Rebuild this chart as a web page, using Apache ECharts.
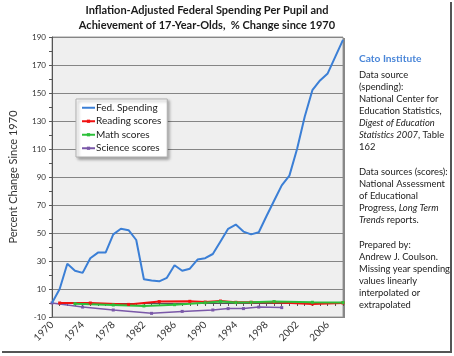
<!DOCTYPE html>
<html><head><meta charset="utf-8">
<script src="https://cdn.jsdelivr.net/npm/echarts@6/dist/echarts.min.js"></script>
<style>html,body{margin:0;padding:0;background:#fff}#c{width:454px;height:356px}</style>
</head><body><div id="c"></div>
<script>
var years = ['1970','1971','1972','1973','1974','1975','1976','1977','1978','1979','1980','1981','1982','1983','1984','1985','1986','1987','1988','1989','1990','1991','1992','1993','1994','1995','1996','1997','1998','1999','2000','2001','2002','2003','2004','2005','2006','2007','2008'];
var spending = [0,10,28,23,21.5,32,36,36,49,53,52,45,17,16,15.5,18,27,23,24.5,31,32,35,44,53,56,51,49,50.5,62,73,84,91,110,133,152,159,164,176,188];
var readingYears = ['1971','1975','1980','1984','1988','1990','1992','1994','1996','1999','2004','2008'];
var readingVals  = [0,0,-1,1,1.2,0.7,1.4,0.5,0.5,0.5,-0.7,0];
var mathYears = ['1973','1978','1982','1986','1990','1992','1994','1996','1999','2004','2008'];
var mathVals  = [-0.5,-1.4,-2.1,-1.2,0.2,1,0.3,0.5,1,0.5,0.3];
var scienceYears = ['1970','1974','1978','1983','1987','1991','1993','1995','1997','2000'];
var scienceVals  = [0,-2.9,-5,-7.4,-6,-5,-4,-4,-2.9,-3.3];
var seriesNames = ['Fed. Spending','Reading scores','Math scores','Science scores'];
var titleLines = ['Inflation-Adjusted Federal Spending Per Pupil and','Achievement of 17-Year-Olds,  % Change since 1970'];
var yAxisName = 'Percent Change Since 1970';
var sideLines = [
  ['{b|Cato Institute}', 0],
  ['Data source', 1],
  ['(spending):', 2],
  ['National Center for', 3],
  ['Education Statistics,', 4],
  ['{i|Digest of Education}', 5],
  ['{i|Statistics 2007}, Table', 6],
  ['162', 7],
  ['Data sources (scores):', 9],
  ['National Assessment', 10],
  ['of Educational', 11],
  ['Progress, {i|Long Term}', 12],
  ['{i|Trends} reports.', 13],
  ['Prepared by:', 15],
  ['Andrew J. Coulson.', 16],
  ['Missing year spending', 17],
  ['values linearly', 18],
  ['interpolated or', 19],
  ['extrapolated', 20]
];

function sparse(ys, vs) {
  var arr = years.map(function(){ return null; });
  ys.forEach(function(y, i){ arr[years.indexOf(y)] = vs[i]; });
  return arr;
}

var FONT = "Lato,'Liberation Sans',sans-serif";
var chart = echarts.init(document.getElementById('c'), null, {renderer:'canvas'});

var graphics = [];
titleLines.forEach(function(t, i){
  graphics.push({type:'text', x:207, y:10 + i*15, style:{text:t, font:"bold 11px " + FONT, fill:'#1a1a1a', textAlign:'center', textVerticalAlign:'middle'}});
});
sideLines.forEach(function(l){
  var idx = l[1];
  var y = idx === 0 ? 59 : 75 + (idx-1)*12 + (idx >= 9 ? 1 : 0) + (idx >= 15 ? 1 : 0);
  graphics.push({type:'text', x:359, y:y, style:{text:l[0], font:"9.4px " + FONT, fill:'#222', textVerticalAlign:'middle',
    rich:{b:{fontFamily:FONT, fontSize:10.2, fontWeight:'bold', fill:'#4a86d8'}, i:{fontFamily:FONT, fontSize:9.4, fontStyle:'italic', fill:'#222'}}}});
});
graphics.push({type:'line', shape:{x1:451, y1:2, x2:451, y2:353}, style:{stroke:'#555', lineWidth:2}});
graphics.push({type:'line', shape:{x1:2, y1:352, x2:452, y2:352}, style:{stroke:'#555', lineWidth:2}});
graphics.push({type:'line', shape:{x1:344, y1:38, x2:344, y2:318}, style:{stroke:'#888', lineWidth:2}});

var mk = function(name, data, color, symbol, width, z){
  return {name:name, type:'line', data:data, connectNulls:true, symbol:symbol, symbolSize:3, showSymbol: symbol !== 'none',
    lineStyle:{color:color, width:width}, itemStyle:{color:color}, z:z, animation:false};
};

chart.setOption({
  animation:false,
  grid:{left:46, top:37, right:111, bottom:39, show:true, backgroundColor:'#efefef', borderColor:'#9a9a9a', borderWidth:1},
  legend:{orient:'vertical', left:76, top:99, padding:[2,6,2,5], itemGap:0, itemWidth:13, itemHeight:4,
    backgroundColor:'#fff', borderColor:'#b0b0b0', borderWidth:1, shadowColor:'rgba(0,0,0,0.35)', shadowBlur:3, shadowOffsetX:2, shadowOffsetY:2,
    textStyle:{fontFamily:FONT, fontSize:10, color:'#222', lineHeight:13.5, padding:[0,0,0,-4]},
    data:[{name:seriesNames[0], itemStyle:{opacity:0}}, seriesNames[1], seriesNames[2], seriesNames[3]]},
  xAxis:{type:'category', data:years, boundaryGap:false,
    axisLine:{lineStyle:{color:'#555', width:1}}, axisTick:{show:true, interval:0, length:3, lineStyle:{color:'#555'}},
    axisLabel:{interval:3, rotate:45, fontFamily:FONT, fontSize:10, color:'#333', margin:6}, splitLine:{show:false}},
  yAxis:{type:'value', min:-10, max:190, interval:10, name:yAxisName, nameLocation:'middle', nameGap:33,
    nameTextStyle:{fontFamily:FONT, fontSize:11, color:'#333'},
    axisLine:{show:true, lineStyle:{color:'#555'}}, axisTick:{show:true, length:3, lineStyle:{color:'#555'}},
    axisLabel:{fontFamily:FONT, fontSize:8, color:'#333', margin:6, formatter:function(v){ return ((v+10) % 20 === 0) ? String(v) : ''; }},
    splitLine:{show:true, lineStyle:{color:['#858585','rgba(0,0,0,0)'], width:1}}},
  series:[
    mk(seriesNames[0], spending, '#3b7fd6', 'none', 2, 5),
    mk(seriesNames[1], sparse(readingYears, readingVals), '#f01010', 'rect', 2, 4),
    mk(seriesNames[2], sparse(mathYears, mathVals), '#2cc03a', 'rect', 2, 4),
    mk(seriesNames[3], sparse(scienceYears, scienceVals), '#7a58a8', 'rect', 1.5, 3)
  ],
  graphic:graphics
});
</script></body></html>
